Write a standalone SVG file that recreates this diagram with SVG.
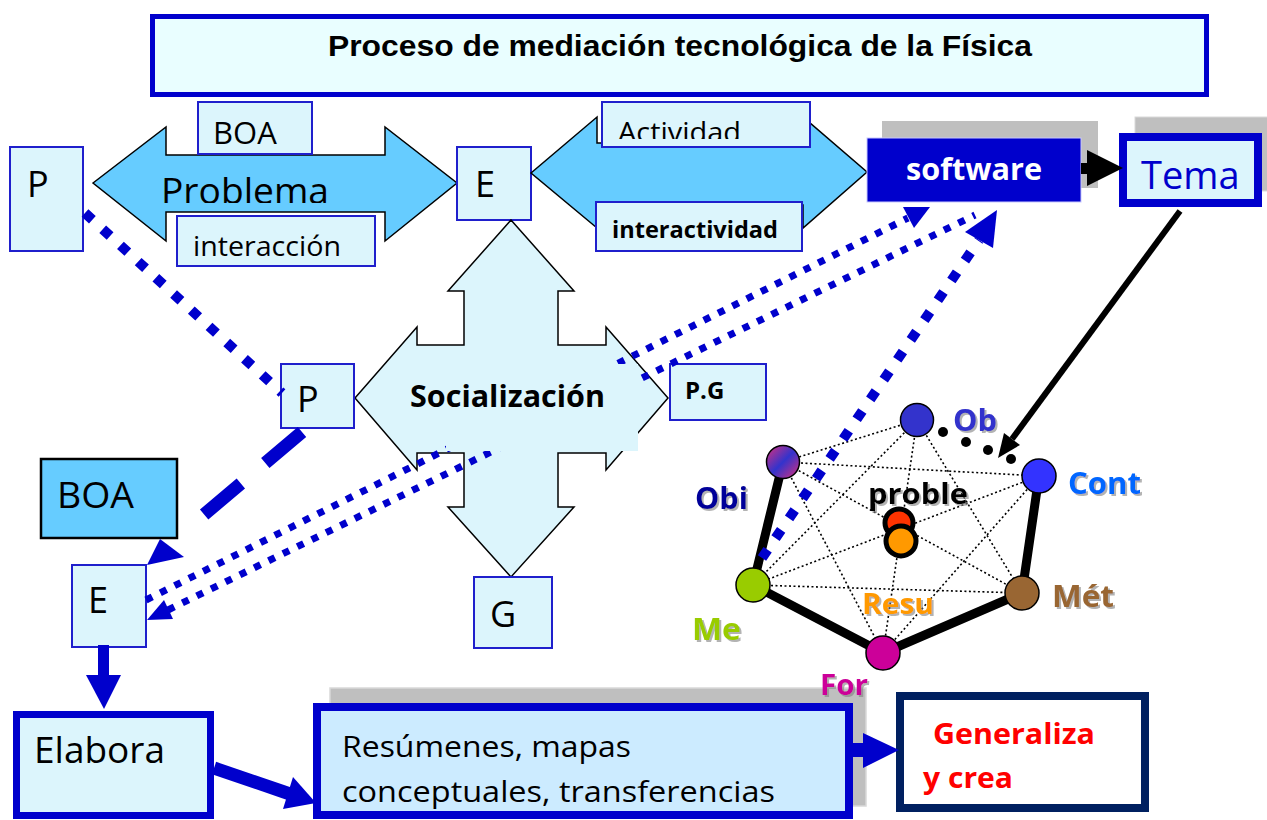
<svg xmlns="http://www.w3.org/2000/svg" width="1267" height="820" viewBox="0 0 1267 820">
<defs>
<style>
.bx{fill:#DCF5FC;stroke:#1F1FCC;stroke-width:2}
.t{font-family:"Open Sans","Liberation Sans",sans-serif;fill:#000}
.b{font-weight:bold}
.arrowfill{fill:#66CCFF;stroke:#000;stroke-width:1.5}
.cross{fill:#DCF5FC;stroke:#000;stroke-width:1.5}
.dot{fill:none;stroke:#0000CC;stroke-width:7;stroke-dasharray:7 9}
.dgr{stroke:#000;stroke-width:1.6;stroke-dasharray:2 2.5;fill:none}
.thick{stroke:#000;stroke-width:9;stroke-linecap:round;fill:none}
.node{stroke:#000;stroke-width:1.5}
.lbl{font-family:"Open Sans","Liberation Sans",sans-serif;font-weight:bold}
</style>
<clipPath id="clipProb"><rect x="0" y="0" width="460" height="203"/></clipPath>
<clipPath id="clipAct"><rect x="600" y="100" width="215" height="39"/></clipPath>
<linearGradient id="gObi" x1="0" y1="0" x2="1" y2="1">
<stop offset="0" stop-color="#E0307A"/>
<stop offset="0.5" stop-color="#3333CC"/>
<stop offset="1" stop-color="#E0307A"/>
</linearGradient>
<filter id="sh" x="-20%" y="-20%" width="140%" height="140%">
<feDropShadow dx="2" dy="2" stdDeviation="0.6" flood-color="#808080" flood-opacity="0.6"/>
</filter>
</defs>
<rect x="0" y="0" width="1267" height="820" fill="#fff"/>

<g id="title">
<rect x="152.5" y="16.5" width="1054" height="78" fill="#E9FEFF" stroke="#0000CC" stroke-width="5"/>
<text x="328" y="56" font-family="Liberation Sans, Arial, sans-serif" font-weight="bold" font-size="29" textLength="704" lengthAdjust="spacingAndGlyphs">Proceso de mediación tecnológica de la Física</text>
</g>

<g id="problema">
<polygon class="arrowfill" points="93,183 166,127 166,155 385,155 385,127 457,183 385,241 385,212 166,212 166,241"/>
<text class="t" x="161" y="204" font-size="36" textLength="168" lengthAdjust="spacingAndGlyphs" clip-path="url(#clipProb)">Problema</text>
</g>
<g id="boa-top">
<rect class="bx" x="198" y="102" width="114" height="52"/>
<text class="t" x="213" y="144" font-size="31">BOA</text>
</g>
<g id="interaccion">
<rect class="bx" x="177" y="216" width="198" height="50"/>
<text class="t" x="193" y="256" font-size="28" textLength="148" lengthAdjust="spacingAndGlyphs">interacción</text>
</g>
<g id="p-top">
<rect class="bx" x="10" y="147" width="73" height="104"/>
<text class="t" x="27" y="197" font-size="36">P</text>
</g>
<g id="e-top">
<rect class="bx" x="457" y="147" width="74" height="73"/>
<text class="t" x="475" y="197" font-size="36">E</text>
</g>

<g id="actividad-arrow">
<polygon class="arrowfill" points="531,173 597,117 597,143 803,143 803,117 867,172 803,228 803,205 597,205 597,228"/>
</g>
<g id="actividad">
<rect class="bx" x="602" y="102" width="208" height="45"/>
<text class="t" x="618" y="142" font-size="28" textLength="123" lengthAdjust="spacingAndGlyphs" clip-path="url(#clipAct)">Actividad</text>
</g>
<g id="interactividad">
<rect class="bx" x="596" y="202" width="206" height="49"/>
<text class="t b" x="612" y="238" font-size="23.5" textLength="166" lengthAdjust="spacingAndGlyphs">interactividad</text>
</g>

<g id="software">
<rect x="882" y="121" width="216" height="67" fill="#BFBFBF"/>
<rect x="867" y="138" width="214" height="64" fill="#0000CC" stroke="#C8C8FF" stroke-width="1"/>
<text class="t b" x="906" y="180" font-size="30" style="fill:#fff" textLength="136" lengthAdjust="spacingAndGlyphs">software</text>
</g>
<g id="tema">
<rect x="1135" y="117" width="140" height="74" fill="#BFBFBF" stroke="#D9D9D9" stroke-width="1"/>
<rect x="1123" y="137" width="135" height="66" fill="#DCF5FC" stroke="#0000CC" stroke-width="8"/>
<text class="t" x="1141" y="189" font-size="38" style="fill:#0000CC">Tema</text>
</g>

<g id="socializacion-shape">
<polygon class="cross" points="511,220 574,291 558,291 558,345 606,345 606,327 668,398 606,470 606,453 558,453 558,507 574,507 511,577 448,507 464,507 464,453 417,453 417,470 355,398 417,327 417,345 464,345 464,291 448,291"/>
</g>

<g id="p-mid">
<rect class="bx" x="281" y="364" width="73" height="64"/>
<text class="t" x="297" y="412" font-size="36">P</text>
</g>
<g id="pg">
<rect class="bx" x="670" y="364" width="96" height="56"/>
<text class="t b" x="685" y="399" font-size="24">P.G</text>
</g>
<g id="boa-low">
<rect x="41" y="459" width="136" height="79" fill="#66CCFF" stroke="#000" stroke-width="2.5"/>
<text class="t" x="57" y="508" font-size="36" textLength="77" lengthAdjust="spacingAndGlyphs">BOA</text>
</g>
<g id="e-low">
<rect class="bx" x="72" y="565" width="74" height="82"/>
<text class="t" x="88" y="613" font-size="36">E</text>
</g>
<g id="g">
<rect class="bx" x="474" y="577" width="78" height="71"/>
<text class="t" x="490" y="627" font-size="36">G</text>
</g>
<g id="elabora">
<rect x="16.5" y="714.5" width="194" height="101" fill="#DCF5FC" stroke="#0000CC" stroke-width="7"/>
<text class="t" x="34" y="763" font-size="36" textLength="131" lengthAdjust="spacingAndGlyphs">Elabora</text>
</g>
<g id="resumenes">
<rect x="330" y="688" width="536" height="118" fill="#BFBFBF" stroke="#D9D9D9" stroke-width="1.5"/>
<rect x="317" y="707" width="532" height="108" fill="#CCEBFF" stroke="#0000CC" stroke-width="8"/>
<text class="t" x="342" y="757" font-size="29" textLength="289" lengthAdjust="spacingAndGlyphs">Resúmenes, mapas</text>
<text class="t" x="342" y="802" font-size="29" textLength="433" lengthAdjust="spacingAndGlyphs">conceptuales, transferencias</text>
</g>
<g id="generaliza">
<rect x="900" y="696" width="245" height="112" fill="#fff" stroke="#002060" stroke-width="8"/>
<text class="t b" x="933" y="744" font-size="29" style="fill:#FF0000" textLength="162" lengthAdjust="spacingAndGlyphs">Generaliza</text>
<text class="t b" x="923" y="788" font-size="29" style="fill:#FF0000" textLength="90" lengthAdjust="spacingAndGlyphs">y crea</text>
</g>

<g id="graph">
<g id="graph-edges">
<line class="dgr" x1="917" y1="420" x2="783" y2="462"/>
<line class="dgr" x1="917" y1="420" x2="753" y2="585"/>
<line class="dgr" x1="917" y1="420" x2="1022" y2="593"/>
<line class="dgr" x1="917" y1="420" x2="883" y2="653"/>
<line class="dgr" x1="783" y1="462" x2="1039" y2="476"/>
<line class="dgr" x1="783" y1="462" x2="1022" y2="593"/>
<line class="dgr" x1="783" y1="462" x2="883" y2="653"/>
<line class="dgr" x1="1039" y1="476" x2="753" y2="585"/>
<line class="dgr" x1="1039" y1="476" x2="883" y2="653"/>
<line class="dgr" x1="753" y1="585" x2="1022" y2="593"/>
<line class="thick" x1="783" y1="462" x2="753" y2="585"/>
<line class="thick" x1="753" y1="585" x2="883" y2="653"/>
<line class="thick" x1="883" y1="653" x2="1022" y2="593"/>
<line class="thick" x1="1022" y1="593" x2="1039" y2="476"/>
<circle cx="943" cy="432" r="5" fill="#000"/>
<circle cx="966" cy="442" r="5" fill="#000"/>
<circle cx="988" cy="450" r="5" fill="#000"/>
<circle cx="1011" cy="459" r="5" fill="#000"/>
</g>
<g id="center">
<circle cx="899" cy="523" r="14" fill="#FF3300" stroke="#000" stroke-width="5"/>
<circle cx="901" cy="541" r="15" fill="#FF9900" stroke="#000" stroke-width="5"/>
</g>
<circle id="n-ob" class="node" cx="917" cy="420" r="16.5" fill="#3333CC"/>
<circle id="n-obi" class="node" cx="783" cy="462" r="16.5" fill="url(#gObi)"/>
<circle id="n-cont" class="node" cx="1039" cy="476" r="17" fill="#3333FF"/>
<circle id="n-me" class="node" cx="753" cy="585" r="17" fill="#99CC00"/>
<circle id="n-met" class="node" cx="1022" cy="593" r="17" fill="#996633"/>
<circle id="n-for" class="node" cx="883" cy="653" r="17" fill="#CC0099"/>
<g filter="url(#sh)">
<text class="lbl" x="953" y="431" font-size="30" fill="#3333CC" textLength="44" lengthAdjust="spacingAndGlyphs">Ob</text>
<text class="lbl" x="1068" y="494" font-size="31" fill="#0066FF" textLength="73" lengthAdjust="spacingAndGlyphs">Cont</text>
<text class="lbl" x="695" y="509" font-size="31" fill="#000099" textLength="53" lengthAdjust="spacingAndGlyphs">Obi</text>
<text class="lbl" x="868" y="504" font-size="29" fill="#000" textLength="100" lengthAdjust="spacingAndGlyphs">proble</text>
<text class="lbl" x="862" y="614" font-size="29" fill="#FF9900" textLength="72" lengthAdjust="spacingAndGlyphs">Resu</text>
<text class="lbl" x="1052" y="607" font-size="30" fill="#996633" textLength="62" lengthAdjust="spacingAndGlyphs">Mét</text>
<text class="lbl" x="692" y="640" font-size="30" fill="#99CC00" textLength="49" lengthAdjust="spacingAndGlyphs">Me</text>
<text class="lbl" x="820" y="695" font-size="28" fill="#CC0099" textLength="48" lengthAdjust="spacingAndGlyphs">For</text>
</g>
</g>

<g id="connectors">
<line x1="85" y1="213" x2="282" y2="393" stroke="#0000CC" stroke-width="10" stroke-dasharray="10 14"/>
<line x1="302" y1="432" x2="200" y2="518" stroke="#0000CC" stroke-width="13" stroke-dasharray="48 32"/>
<polygon points="147,565 160,539 184,557" fill="#0000CC"/>
<line class="dot" x1="146" y1="600" x2="908" y2="218"/>
<polygon points="930,207 914,228 903,207" fill="#0000CC"/>
<line class="dot" x1="168" y1="610" x2="975" y2="215"/>
<polygon points="147,620 173,619 164,600" fill="#0000CC"/>
<line x1="762" y1="558" x2="979" y2="240" stroke="#0000CC" stroke-width="10" stroke-dasharray="10 14"/>
<polygon points="997,210 993,248 965,232" fill="#0000CC"/>
<rect x="1081" y="163" width="9" height="11" fill="#000"/>
<polygon points="1087,150 1123,168 1087,186" fill="#000"/>
<line x1="1180" y1="211" x2="1012" y2="439" stroke="#000" stroke-width="6"/>
<polygon points="998,458 1020,445 1004,433" fill="#000"/>
<rect x="98" y="645" width="11" height="31" fill="#0000CC"/>
<polygon points="86,675 121,675 104,709" fill="#0000CC"/>
<line x1="214" y1="768" x2="290" y2="794" stroke="#0000CC" stroke-width="13"/>
<polygon points="293,777 316,803 283,809" fill="#0000CC"/>
<rect x="853" y="743" width="13" height="14" fill="#0000CC"/>
<polygon points="863,733 899,750 863,768" fill="#0000CC"/>
</g>

<g id="socializacion">
<rect x="446" y="364" width="192" height="87" fill="#DCF5FC"/>
<text class="t b" x="410" y="407" font-size="30" textLength="195" lengthAdjust="spacingAndGlyphs">Socialización</text>
</g>
</svg>
